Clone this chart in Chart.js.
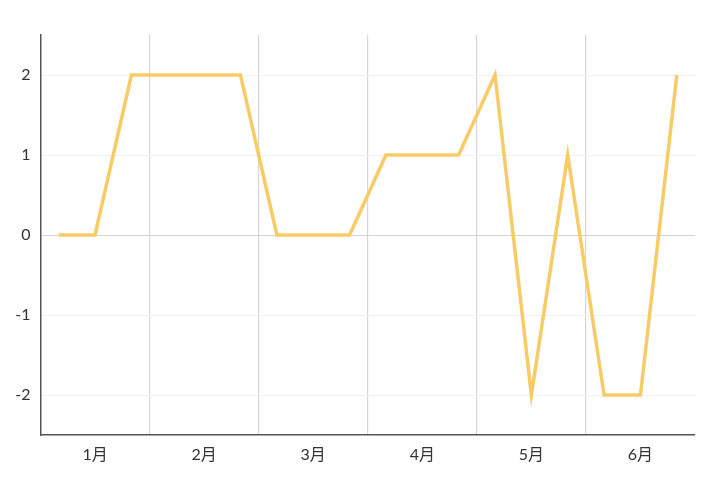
<!DOCTYPE html>
<html>
<head>
<meta charset="utf-8">
<script src="https://cdn.jsdelivr.net/npm/chart.js@4"></script>
<style>
  html, body { margin: 0; padding: 0; background: #fff; }
  #wrap { width: 720px; height: 489px; }
</style>
</head>
<body>
<div id="wrap"><canvas id="lineChart"></canvas></div>
<script>
const months = ['1月', '2月', '3月', '4月', '5月', '6月'];
const perMonth = 3;
const values = [0, 0, 2, 2, 2, 2, 0, 0, 0, 1, 1, 1, 2, -2, 1, -2, -2, 2];
const yTicks = [-2, -1, 0, 1, 2];

// each month holds three points, only the middle one gets the label
const labels = months.flatMap(m => Array(perMonth).fill(m));

const ctx = document.getElementById('lineChart').getContext('2d');
const chart = new Chart(ctx, {
    type: 'line',
    data: {
        labels: labels,
        datasets: [{
            data: values,
            borderColor: '#f7cb66',
            borderWidth: 3.5,
            pointRadius: 0,
            tension: 0,
            fill: false
        }]
    },
    options: {
        responsive: true,
        maintainAspectRatio: false,
        animation: false,
        layout: { padding: { top: 35, right: 25, bottom: 0, left: 0 } },
        plugins: { legend: { display: false }, tooltip: { enabled: false } },
        scales: {
            x: {
                offset: true,
                grid: {
                    offset: true,
                    drawTicks: false,
                    lineWidth: 1.2,
                    color: c => (typeof c.index === 'number' && c.index > 0 && c.index < labels.length && c.index % perMonth === 0) ? '#d6d6d6' : 'rgba(0,0,0,0)'
                },
                border: { color: '#555', width: 1.5 },
                ticks: {
                    autoSkip: false,
                    maxRotation: 0,
                    padding: 10,
                    color: '#333',
                    font: { family: "Lato, 'Noto Sans CJK SC'", size: 16 },
                    callback: function(value, index) {
                        return index % perMonth === 1 ? this.getLabelForValue(value) : '';
                    }
                },
                afterFit: s => { s.height = 54; }
            },
            y: {
                min: -2.5,
                max: 2.5,
                afterBuildTicks: s => { s.ticks = yTicks.map(v => ({ value: v })); },
                grid: {
                    drawTicks: false,
                    color: c => c.tick && c.tick.value === 0 ? '#d3d3d3' : '#f0f0f0'
                },
                border: { color: '#555', width: 1.5 },
                ticks: {
                    padding: 10,
                    color: '#333',
                    font: { family: "Lato, 'Noto Sans CJK SC'", size: 16 }
                },
                afterFit: s => { s.width = 40.5; }
            }
        }
    }
});
</script>
</body>
</html>
